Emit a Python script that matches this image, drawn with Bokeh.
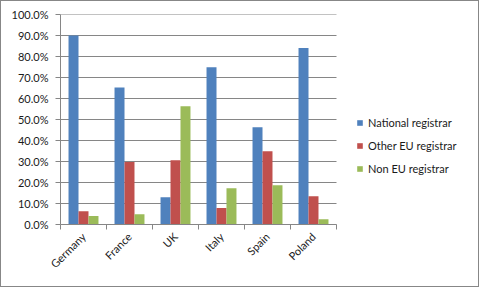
from math import pi
from bokeh.plotting import figure
from bokeh.models import (Range1d, FixedTicker, PrintfTickFormatter, Legend,
                          LegendItem, ColumnDataSource)
from bokeh.embed import file_html
from bokeh.resources import INLINE

countries = ["Germany", "France", "UK", "Italy", "Spain", "Poland"]
national = [90.0, 65.2, 13.0, 74.9, 46.3, 84.0]
other_eu = [6.3, 29.8, 30.6, 7.8, 34.9, 13.5]
non_eu = [4.0, 4.9, 56.3, 17.3, 18.7, 2.5]
series_names = ["National registrar", "Other EU registrar", "Non EU registrar"]
colors = ["#4F81BD", "#C0504D", "#9BBB59"]
y_ticks = [0, 10, 20, 30, 40, 50, 60, 70, 80, 90, 100]

FONT = "Lato"
GRID = "#868686"
TXT = "#1a1a1a"

n = len(countries)
# frame is 415 px wide; the category area uses 276 px of it (46 px per category)
x_end = n * 415 / 276

p = figure(width=479, height=287, output_backend="svg", toolbar_location=None,
           x_range=Range1d(0, x_end), y_range=Range1d(0, 100),
           min_border_left=59, min_border_right=5, min_border_top=13,
           min_border_bottom=64, outline_line_color=None,
           background_fill_color="white", border_fill_color="white")
p.styles = {"border": "1px solid #878787"}

# horizontal gridlines limited to the category area
p.xgrid.visible = False
p.ygrid.visible = False
p.segment(x0=[0] * len(y_ticks), x1=[n] * len(y_ticks), y0=y_ticks, y1=y_ticks,
          line_color=GRID, line_width=1, level="underlay")

bar_w = 0.217
offsets = [-bar_w, 0.0, bar_w]
centers = [i + 0.5 for i in range(n)]
renderers = []
for vals, off, col in zip([national, other_eu, non_eu], offsets, colors):
    src = ColumnDataSource(dict(x=[c + off for c in centers], top=vals))
    r = p.vbar(x="x", top="top", width=bar_w, bottom=0, source=src,
               fill_color=col, line_color=None)
    renderers.append(r)

# y axis
ya = p.yaxis[0]
ya.ticker = FixedTicker(ticks=y_ticks)
ya.formatter = PrintfTickFormatter(format="%.1f%%")
ya.axis_line_color = GRID
ya.major_tick_line_color = GRID
ya.major_tick_out = 5
ya.major_tick_in = 0
ya.minor_tick_line_color = None
ya.major_label_standoff = 7
ya.major_label_text_font = FONT
ya.major_label_text_font_size = "11px"
ya.major_label_text_color = TXT

# x axis
xa = p.xaxis[0]
xa.bounds = (0, n)
xa.ticker = FixedTicker(ticks=centers, minor_ticks=list(range(n + 1)))
xa.major_label_overrides = {c: name for c, name in zip(centers, countries)}
xa.axis_line_color = GRID
xa.major_tick_line_color = None
xa.major_tick_out = 0
xa.major_tick_in = 0
xa.minor_tick_line_color = GRID
xa.minor_tick_out = 5
xa.minor_tick_in = 0
xa.major_label_orientation = pi / 4
xa.major_label_standoff = 5
xa.major_label_text_font = FONT
xa.major_label_text_font_size = "11px"
xa.major_label_text_color = TXT

legend = Legend(items=[LegendItem(label=s, renderers=[r])
                       for s, r in zip(series_names, renderers)],
                location=(296, 49), orientation="vertical",
                glyph_width=7, glyph_height=7, label_height=14,
                label_standoff=5, spacing=9, padding=0, margin=0,
                border_line_color=None, background_fill_alpha=0,
                label_text_font=FONT, label_text_font_size="11px",
                label_text_color=TXT)
p.add_layout(legend, "center")

open("out.html", "w").write(file_html(p, INLINE))
